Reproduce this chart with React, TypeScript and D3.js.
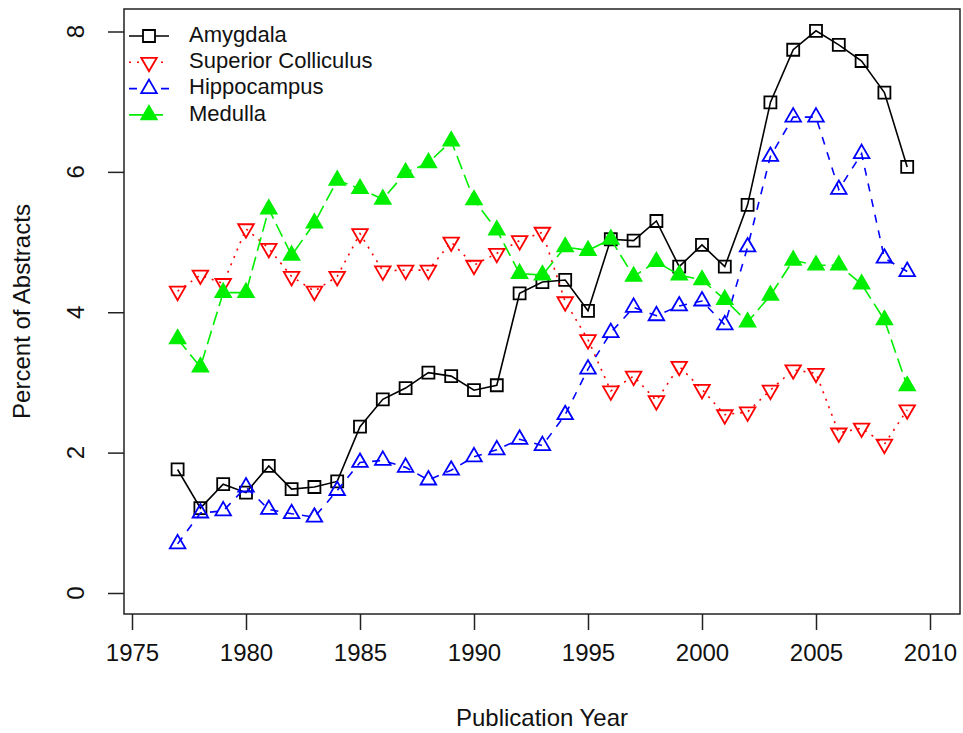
import React, { useEffect, useRef } from "react";
import * as d3 from "d3";

const years = d3.range(1977, 2010);

const amygdala = [1.76, 1.21, 1.55, 1.43, 1.81, 1.48, 1.51, 1.59, 2.37, 2.76, 2.92, 3.14, 3.09, 2.89, 2.96, 4.27, 4.43, 4.46, 4.02, 5.04, 5.02, 5.3, 4.65, 4.96, 4.65, 5.53, 6.99, 7.74, 8.01, 7.81, 7.58, 7.13, 6.07];
const superiorColliculus = [4.3, 4.53, 4.41, 5.19, 4.91, 4.51, 4.3, 4.51, 5.12, 4.59, 4.6, 4.6, 5.0, 4.67, 4.84, 5.02, 5.14, 4.15, 3.61, 2.88, 3.09, 2.74, 3.23, 2.9, 2.54, 2.58, 2.89, 3.18, 3.13, 2.28, 2.35, 2.12, 2.61];
const hippocampus = [0.7, 1.14, 1.17, 1.51, 1.19, 1.13, 1.08, 1.46, 1.86, 1.89, 1.79, 1.61, 1.75, 1.94, 2.04, 2.19, 2.1, 2.54, 3.19, 3.71, 4.07, 3.95, 4.09, 4.16, 3.82, 4.93, 6.22, 6.78, 6.78, 5.75, 6.26, 4.77, 4.58];
const medulla = [3.62, 3.22, 4.28, 4.28, 5.47, 4.81, 5.27, 5.88, 5.76, 5.61, 5.99, 6.13, 6.44, 5.6, 5.17, 4.55, 4.53, 4.93, 4.88, 5.04, 4.51, 4.72, 4.53, 4.46, 4.18, 3.86, 4.24, 4.74, 4.67, 4.67, 4.4, 3.89, 2.95];

const xTicks = [1975, 1980, 1985, 1990, 1995, 2000, 2005, 2010];
const yTicks = [0, 2, 4, 6, 8];

const series = [
  { name: "Amygdala", values: amygdala, color: "#000000", dash: null, shape: "square", fill: false },
  { name: "Superior Colliculus", values: superiorColliculus, color: "#ff0000", dash: "2,6", shape: "down", fill: false },
  { name: "Hippocampus", values: hippocampus, color: "#0000ff", dash: "8,8", shape: "up", fill: false },
  { name: "Medulla", values: medulla, color: "#00ee00", dash: "14,6", shape: "up", fill: true },
];

const W = 963;
const H = 733;
const box = { left: 124, right: 960, top: 9, bottom: 614 };
const font = "'Liberation Sans', Arial, Helvetica, sans-serif";

function symbolPath(shape: string) {
  if (shape === "square") return d3.symbol(d3.symbolSquare, 144)();
  return d3.symbol(d3.symbolTriangle, 105)();
}

export default function App() {
  const ref = useRef<SVGSVGElement>(null);

  useEffect(() => {
    document.body.style.margin = "0";
    const svg = d3.select(ref.current);
    svg.selectAll("*").remove();

    const x = d3.scaleLinear().domain([1975, 2010]).range([132, 930]);
    const y = d3.scaleLinear().domain([0, 8]).range([593, 31.5]);

    // frame
    svg.append("rect")
      .attr("x", box.left).attr("y", box.top)
      .attr("width", box.right - box.left).attr("height", box.bottom - box.top)
      .attr("fill", "none").attr("stroke", "#222").attr("stroke-width", 1.5);

    // x axis
    const gx = svg.append("g").attr("transform", `translate(0,${box.bottom})`)
      .call(d3.axisBottom(x).tickValues(xTicks).tickFormat(d3.format("d")).tickSize(16).tickSizeOuter(0).tickPadding(14));
    gx.select(".domain").remove();
    gx.selectAll("line").attr("stroke", "#222").attr("stroke-width", 1.5);
    gx.selectAll("text").attr("font-family", font).attr("font-size", 24).attr("fill", "#111");

    // y axis (labels rotated like R's default)
    const gy = svg.append("g").attr("transform", `translate(${box.left},0)`)
      .call(d3.axisLeft(y).tickValues(yTicks).tickSize(16).tickSizeOuter(0));
    gy.select(".domain").remove();
    gy.selectAll("text").remove();
    gy.selectAll("line").attr("stroke", "#222").attr("stroke-width", 1.5);
    svg.append("g")
      .selectAll("text")
      .data(yTicks)
      .join("text")
      .attr("transform", (d) => `translate(84,${y(d)}) rotate(-90)`)
      .attr("text-anchor", "middle")
      .attr("font-family", font).attr("font-size", 24).attr("fill", "#111")
      .text((d) => String(d));

    svg.append("text")
      .attr("transform", `translate(30,${(box.top + box.bottom) / 2}) rotate(-90)`)
      .attr("text-anchor", "middle")
      .attr("font-family", font).attr("font-size", 24).attr("fill", "#111")
      .text("Percent of Abstracts");

    svg.append("text")
      .attr("x", (box.left + box.right) / 2).attr("y", 726)
      .attr("text-anchor", "middle")
      .attr("font-family", font).attr("font-size", 24).attr("fill", "#111")
      .text("Publication Year");

    const line = d3.line<number>().x((_, i) => x(years[i])).y((d) => y(d));

    series.forEach((s) => {
      const g = svg.append("g");
      g.append("path")
        .attr("d", line(s.values))
        .attr("fill", "none")
        .attr("stroke", s.color)
        .attr("stroke-width", 1.6)
        .attr("stroke-dasharray", s.dash);
      g.selectAll("path.pt")
        .data(s.values)
        .join("path")
        .attr("class", "pt")
        .attr("d", symbolPath(s.shape))
        .attr("transform", (d, i) => `translate(${x(years[i])},${y(d)})${s.shape === "down" ? " rotate(180)" : ""}`)
        .attr("fill", s.fill ? s.color : "none")
        .attr("stroke", s.color)
        .attr("stroke-width", 1.8);
    });

    // legend
    const lg = svg.append("g");
    series.forEach((s, i) => {
      const ly = 36 + i * 26.3;
      lg.append("line")
        .attr("x1", 129).attr("x2", 169).attr("y1", ly).attr("y2", ly)
        .attr("stroke", s.color).attr("stroke-width", 1.6)
        .attr("stroke-dasharray", s.dash);
      lg.append("path")
        .attr("d", symbolPath(s.shape))
        .attr("transform", `translate(149,${ly})${s.shape === "down" ? " rotate(180)" : ""}`)
        .attr("fill", s.fill ? s.color : "white")
        .attr("stroke", s.color).attr("stroke-width", 1.8);
      lg.append("text")
        .attr("x", 189).attr("y", ly)
        .attr("dominant-baseline", "middle")
        .attr("font-family", font).attr("font-size", 22).attr("fill", "#111")
        .text(s.name);
    });
  }, []);

  return <svg ref={ref} width={W} height={H} style={{ display: "block", background: "white" }} />;
}
